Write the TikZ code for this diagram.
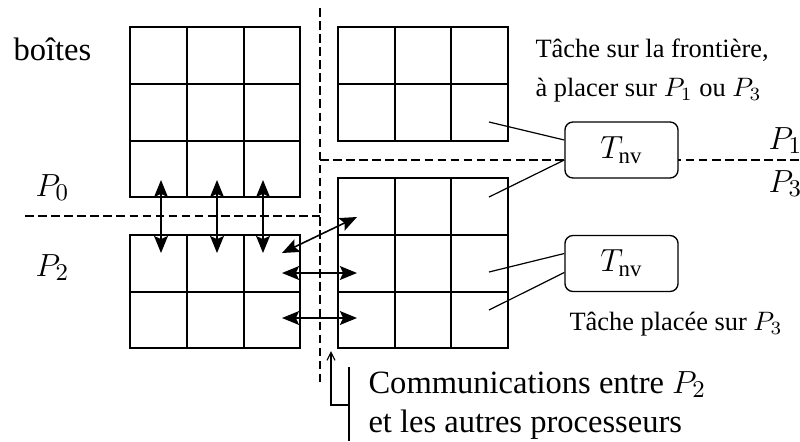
\documentclass[tikz,border=0pt]{standalone}
\usepackage{amsmath}
\usepackage{fontspec}
\setmainfont{Liberation Serif}
\usetikzlibrary{arrows.meta,calc}

\begin{document}
\begin{tikzpicture}[x=0.375pt,y=-0.375pt,
  gridline/.style={line width=0.75pt},
  leader/.style={line width=0.45pt},
  dashline/.style={line width=0.5pt,dash pattern=on 3.2pt off 1.7pt},
  comm/.style={line width=0.6pt,
    {Stealth[length=6.4pt,width=5.2pt,inset=1.2pt]}-{Stealth[length=6.4pt,width=5.2pt,inset=1.2pt]}},
  bigtext/.style={font=\fontsize{12.2}{14.6}\selectfont,inner sep=0pt},
  smalltext/.style={font=\fontsize{9.9}{12}\selectfont,inner sep=0pt},
  task/.style={draw,line width=0.5pt,rounded corners=3pt,fill=white,
    minimum width=42.4pt,minimum height=21pt,inner sep=0pt,
    font=\fontsize{12.2}{14.6}\selectfont}]
\useasboundingbox (0,0) rectangle (800,441);

% processor boundaries
\coordinate (vtop) at (320,8);
\coordinate (vbot) at (320,385);
\coordinate (corner) at (320,160);
\coordinate (hright) at (800,160);
\coordinate (hleft) at (25,216);
\coordinate (hmid) at (320,216);
\draw[dashline] (vtop) -- (vbot);
\draw[dashline] (hleft) -- (hmid);
\draw[dashline] (corner) -- (hright);

% blocks of boxes
% P0
\draw[gridline] (130,27) rectangle (300,197)
  (187,27) -- (187,197) (244,27) -- (244,197)
  (130,84) -- (300,84) (130,141) -- (300,141);
% P1
\draw[gridline] (338,27) rectangle (508,141)
  (395,27) -- (395,141) (451,27) -- (451,141)
  (338,84) -- (508,84);
% P3
\draw[gridline] (338,178) rectangle (508,348)
  (395,178) -- (395,348) (451,178) -- (451,348)
  (338,235) -- (508,235) (338,292) -- (508,292);
% P2
\draw[gridline] (130,235) rectangle (300,348)
  (187,235) -- (187,348) (244,235) -- (244,348)
  (130,292) -- (300,292);

% labels
\node[bigtext,anchor=base west] (boites) at (13,60) {boîtes};
\node[bigtext,anchor=base west] (p0) at (35,196) {$P_0$};
\node[bigtext,anchor=base west] (p2) at (35,276) {$P_2$};
\node[bigtext,anchor=base west] (p1) at (768,149) {$P_1$};
\node[bigtext,anchor=base west] (p3) at (768,192) {$P_3$};
\node[smalltext,anchor=base west] (front1) at (535,57) {Tâche sur la frontière,};
\node[smalltext,anchor=base west] (front2) at (535,96) {à placer sur $P_1$ ou $P_3$};
\node[smalltext,anchor=base west] (placee) at (569,330) {Tâche placée sur $P_3$};
\node[bigtext,anchor=base west] (comm1) at (368,393) {Communications entre $P_2$};
\node[bigtext,anchor=base west] (comm2) at (368,432) {et les autres processeurs};

% new tasks
\node[task] (box1) at (621.5,150) {$T_{\text{nv}}$};
\node[task] (box2) at (621.5,263.5) {$T_{\text{nv}}$};

\coordinate (a1) at (489,122);
\coordinate (a2) at (489,197);
\coordinate (b1) at (489,272);
\coordinate (b2) at (489,310);
\draw[leader] (a1) -- ($(box1.west)+(0,-10)$);
\draw[leader] (a2) -- ($(box1.west)+(0,10)$);
\draw[leader] (b1) -- ($(box2.west)+(0,-10)$);
\draw[leader] (b2) -- ($(box2.west)+(0,9)$);

% communications of P2
\coordinate (u1) at (161,180); \coordinate (d1) at (161,253);
\coordinate (u2) at (217,180); \coordinate (d2) at (217,253);
\coordinate (u3) at (263,180); \coordinate (d3) at (263,253);
\draw[comm] (u1) -- (d1);
\draw[comm] (u2) -- (d2);
\draw[comm] (u3) -- (d3);
\coordinate (l1) at (282,273); \coordinate (r1) at (357,273);
\coordinate (l2) at (282,318); \coordinate (r2) at (357,318);
\draw[comm] (l1) -- (r1);
\draw[comm] (l2) -- (r2);
\coordinate (dl) at (282,253); \coordinate (dr) at (357,217);
\draw[comm] (dl) -- (dr);

% bracket pointing at the exchanges
\coordinate (brtop) at (349,367);
\coordinate (brbot) at (349,441);
\coordinate (brjoint) at (349,405);
\coordinate (hook) at (331,405);
\coordinate (hooktip) at (331,351);
\draw[leader] (brtop) -- (brbot);
\draw[leader,-{Straight Barb[length=3pt,width=3pt]}] (brjoint) -- (hook) -- (hooktip);
\end{tikzpicture}
\end{document}
